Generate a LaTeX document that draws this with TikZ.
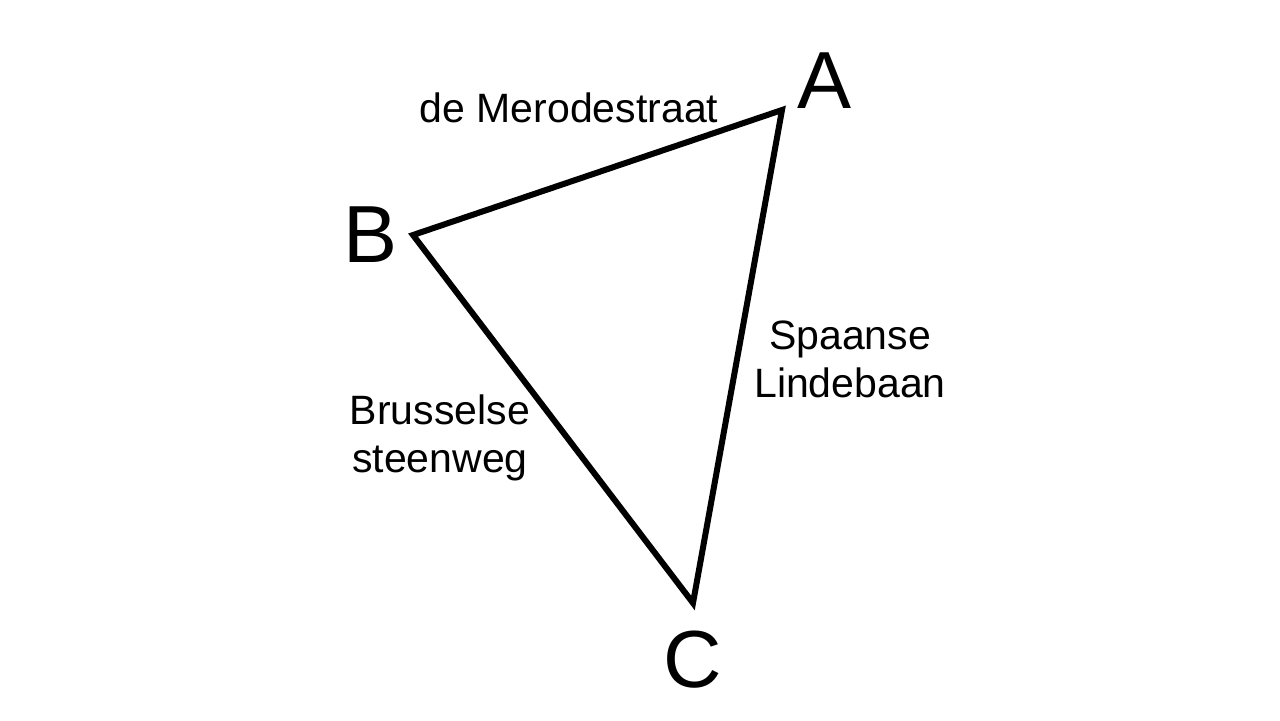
\documentclass[tikz,border=0pt]{standalone}
\usepackage{fontspec}
\setmainfont{Liberation Sans}
\usepackage{tikz}
\usetikzlibrary{positioning}

\tikzset{
  corner/.style={anchor=base, inner sep=0pt, font=\fontsize{40.5}{48}\selectfont},
  street/.style={anchor=base, inner sep=0pt, align=center, font=\fontsize{20.5}{24}\selectfont},
  road/.style={line width=3pt, line join=miter}
}

\begin{document}
\begin{tikzpicture}[x=0.5pt, y=-0.5pt]
    \useasboundingbox (0,0) rectangle (1280,720);
    % corners of the triangle
    \coordinate (a) at (782,110);
    \coordinate (b) at (413,235);
    \coordinate (c) at (693,603);
    % the three streets
    \draw[road] (a) -- (b) -- (c) -- cycle;
    % corner letters
    \node[corner] (labA) at (825,108) {A};
    \node[corner] (labB) at (371,262) {B};
    \node[corner] (labC) at (693,687) {C};
    % street names (base = last line)
    \node[street] (mero) at (569,122) {de Merodestraat};
    \node[street] (spaan) at (850,397) {Spaanse\\Lindebaan};
    \node[street] (brus) at (440,472) {Brusselse\\steenweg};
  \end{tikzpicture}
\end{document}
